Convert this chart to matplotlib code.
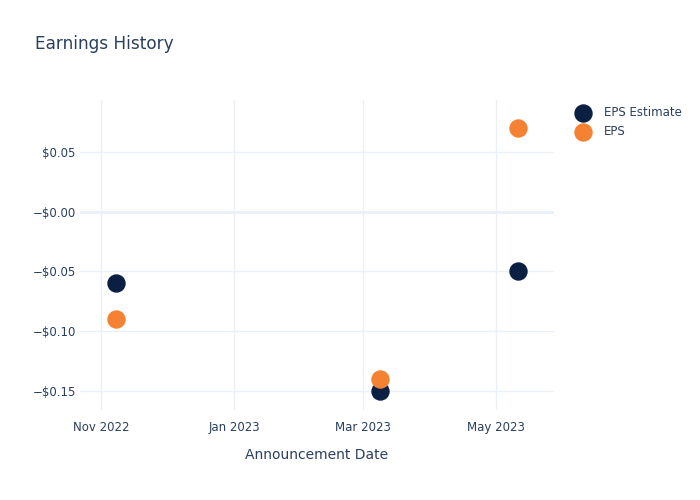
import pandas as pd
import matplotlib.pyplot as plt
import matplotlib.dates as mdates

# dane
dates = pd.to_datetime(["2022-11-08", "2023-03-09", "2023-05-11"])
eps_estimate = [-0.06, -0.15, -0.05]
eps_actual = [-0.09, -0.14, 0.07]

ytick_vals = [-0.15, -0.10, -0.05, 0.0, 0.05]
ytick_labels = ["\u2212$0.15", "\u2212$0.10", "\u2212$0.05", "\u2212$0.00", "$0.05"]
xtick_dates = pd.to_datetime(["2022-11-01", "2023-01-01", "2023-03-01", "2023-05-01"])

txt = "#2a3f5f"
grid = "#ebf0f8"

fig = plt.figure(figsize=(7, 5), dpi=100)
ax = fig.add_axes([80 / 700, 1 - 410 / 500, (554 - 80) / 700, 310 / 500])

ax.scatter(dates, eps_estimate, s=150, color="#0b1f42", label="EPS Estimate", zorder=3)
ax.scatter(dates, eps_actual, s=150, color="#f58233", label="EPS", zorder=3)

ax.set_xlim(pd.Timestamp("2022-10-22 12:00"), pd.Timestamp("2023-05-27 12:00"))
ax.set_ylim(-0.166, 0.0936)

ax.set_xticks(xtick_dates)
ax.xaxis.set_major_formatter(mdates.DateFormatter("%b %Y"))
ax.set_yticks(ytick_vals)
ax.set_yticklabels(ytick_labels)

ax.grid(True, color=grid, linewidth=1, zorder=0)
ax.axhline(0, color=grid, linewidth=2, zorder=1)
for s in ax.spines.values():
    s.set_visible(False)
ax.tick_params(length=0, labelsize=8.5, colors=txt)
ax.tick_params(axis="x", pad=8)
ax.tick_params(axis="y", pad=3)

ax.set_xlabel("Announcement Date", fontsize=10, color=txt, labelpad=10)
fig.text(35 / 700, 1 - 44 / 500, "Earnings History", fontsize=12.2, color=txt, va="center")

ax.legend(loc="upper left", bbox_to_anchor=(571 / 700, 1 - 106 / 500),
          bbox_transform=fig.transFigure, frameon=False, fontsize=8.5,
          labelcolor=txt, handletextpad=0.8, labelspacing=0.5,
          borderaxespad=0, borderpad=0)

fig.savefig("out.png", dpi=100, facecolor="white")
